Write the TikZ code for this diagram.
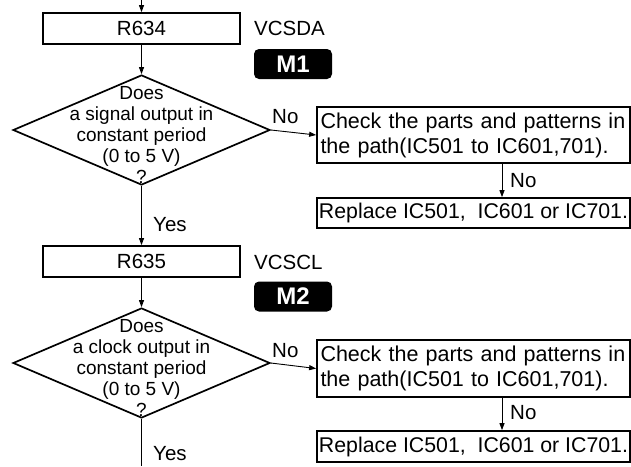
\documentclass[tikz,border=0pt]{standalone}
\usepackage{fontspec}
\setmainfont{Liberation Sans}
\usetikzlibrary{shapes.geometric,arrows.meta}
\begin{document}
\begin{tikzpicture}[x=1pt,y=-1pt,
  boxline/.style={draw=black,line width=1.7pt},
  rbox/.style={boxline,minimum width=197pt,minimum height=31pt,inner sep=0pt,font=\fontsize{20.5}{24}\selectfont},
  wbox/.style={boxline,inner xsep=3.5pt,inner ysep=0pt,align=left,font=\fontsize{21.5}{25}\selectfont},
  pbox/.style={boxline,minimum width=313pt,inner xsep=0.5pt,inner ysep=0pt,font=\fontsize{21.3}{25}\selectfont},
  dia/.style={boxline,diamond,minimum width=257pt,minimum height=110pt,inner sep=0pt},
  diatext/.style={align=center,inner sep=0pt,font=\fontsize{19}{21.2}\selectfont},
  mbox/.style={fill=black,rounded corners=5pt,minimum width=78pt,minimum height=30pt,inner sep=0pt,text=white,font=\fontsize{24}{24}\selectfont\bfseries},
  lbl/.style={inner sep=0pt,anchor=west,font=\fontsize{20.5}{24}\selectfont},
  arr/.style={line width=0.9pt,-{Triangle[length=7pt,width=5pt]}},
  ln/.style={line width=0.9pt}
]
\useasboundingbox (0,0) rectangle (631,466);

% ---------- upper part ----------
\coordinate (top) at (141.5,0);
\node[rbox] (r634) at (141.5,28.5) {R634};
\node[lbl] (vcsda) at (254,28.5) {VCSDA};
\node[mbox] (m1) at (293,64) {M1};
\node[dia] (d1) at (141.5,130) {};
\node[diatext] (d1t) at (141.5,135) {Does\\a signal output in\\constant period\\(0 to 5 V)\\?};
\node[wbox,text width=306pt,minimum height=56pt] (c1) at (473.5,135) {Check the parts and patterns in\\the path(IC501 to IC601,701).};
\node[pbox,minimum height=30pt] (p1) at (473.5,213) {Replace IC501,\ \ IC601 or IC701.};
\node[lbl] (no1) at (272,117) {No};
\node[lbl] (no1b) at (510,181) {No};
\node[lbl] (yes1) at (153,225) {Yes};

% ---------- lower part ----------
\node[rbox] (r635) at (141.5,261.5) {R635};
\node[lbl] (vcscl) at (254,262) {VCSCL};
\node[mbox] (m2) at (293,296.5) {M2};
\node[dia] (d2) at (141.5,363) {};
\node[diatext] (d2t) at (141.5,368) {Does\\a clock output in\\constant period\\(0 to 5 V)\\?};
\node[wbox,text width=306pt,minimum height=57pt] (c2) at (473.5,368.5) {Check the parts and patterns in\\the path(IC501 to IC601,701).};
\node[pbox,minimum height=31pt] (p2) at (473.5,446.5) {Replace IC501,\ \ IC601 or IC701.};
\node[lbl] (no2) at (272,351) {No};
\node[lbl] (no2b) at (510,413) {No};
\node[lbl] (yes2) at (153,454) {Yes};
\coordinate (bot) at (141.5,466);
\coordinate (vx) at (502,0);

% ---------- connectors ----------
\draw[arr] (top) -- (r634.north);
\draw[arr] (r634.south) -- (d1.north);
\draw[arr] (d1.east) -- (c1.west);
\draw[arr] (c1.south -| vx) -- (p1.north -| vx);
\draw[arr] (d1.south) -- (r635.north);
\draw[arr] (r635.south) -- (d2.north);
\draw[arr] (d2.east) -- (c2.west);
\draw[arr] (c2.south -| vx) -- (p2.north -| vx);
\draw[ln] (d2.south) -- (bot);
\end{tikzpicture}
\end{document}
